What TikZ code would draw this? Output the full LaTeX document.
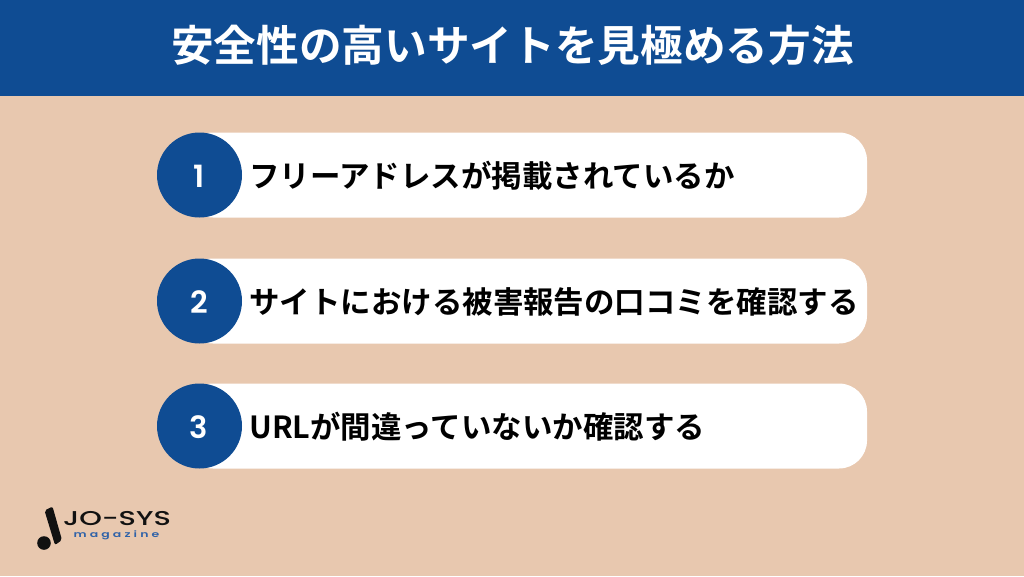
\documentclass[tikz,border=0pt]{standalone}
\usepackage{fontspec}
\setmainfont{Noto Sans CJK JP}[BoldFont={* Bold}]
\newfontfamily\numfont{Poppins}[BoldFont={* SemiBold}]
\newfontfamily\logofont{Poppins}[BoldFont={* Medium}]
\newfontfamily\logosmall{Poppins}[BoldFont={* SemiBold},LetterSpace=25]
\definecolor{navy}{HTML}{0F4C93}
\definecolor{sand}{HTML}{E8C8AF}
\definecolor{logoblue}{HTML}{2F62A8}
\definecolor{logoink}{HTML}{111111}
\tikzset{
 pill/.style={fill=white,rounded corners=21pt},
 numdisc/.style={circle,fill=navy,minimum size=63.75pt,inner sep=0pt},
 numtext/.style={inner sep=0pt,text=white,font=\numfont\bfseries\fontsize{23}{23}\selectfont},
 rowtext/.style={anchor=west,inner sep=0pt,text=black,font=\bfseries\fontsize{22.85}{26}\selectfont},
}
\begin{document}
\begin{tikzpicture}[x=0.75pt,y=-0.75pt]
\useasboundingbox (0,0) rectangle (1024,576);
\fill[sand] (0,0) rectangle (1024,576);
\fill[navy] (0,0) rectangle (1024,96);
\node[text=white,font=\bfseries\fontsize{32}{36}\selectfont,inner sep=0pt] (title) at (512.5,45.5) {安全性の高いサイトを見極める方法};
\foreach \y/\n/\t in {175/1/フリーアドレスが掲載されているか,301/2/サイトにおける被害報告の口コミを確認する,426/3/URLが間違っていないか確認する}{
 \fill[pill] (185,\y-42.5) rectangle (867,\y+42.5);
 \node[numdisc] (d\n) at (199.5,\y) {};
 \node[numtext] (n\n) at (199,\y+1.5) {\n};
 \node[rowtext] (t\n) at (249,\y+0.5) {\t};
}
\fill[logoink] (44,543) circle (6.8);
\fill[logoink,rounded corners=1.5pt] (44.5,510.5) -- (52.5,506.5) -- (62,540) -- (55,545) -- cycle;
\node[anchor=center,inner sep=0pt,text=logoink,font=\logofont\bfseries\fontsize{15}{15}\selectfont,xscale=1.44] (logo) at (117,518.5) {JO-SYS};
\node[anchor=center,inner sep=0pt,text=logoblue,font=\logosmall\bfseries\fontsize{6.5}{7}\selectfont,xscale=1.44] (mag) at (116.5,535.5) {magazine};
\end{tikzpicture}
\end{document}
